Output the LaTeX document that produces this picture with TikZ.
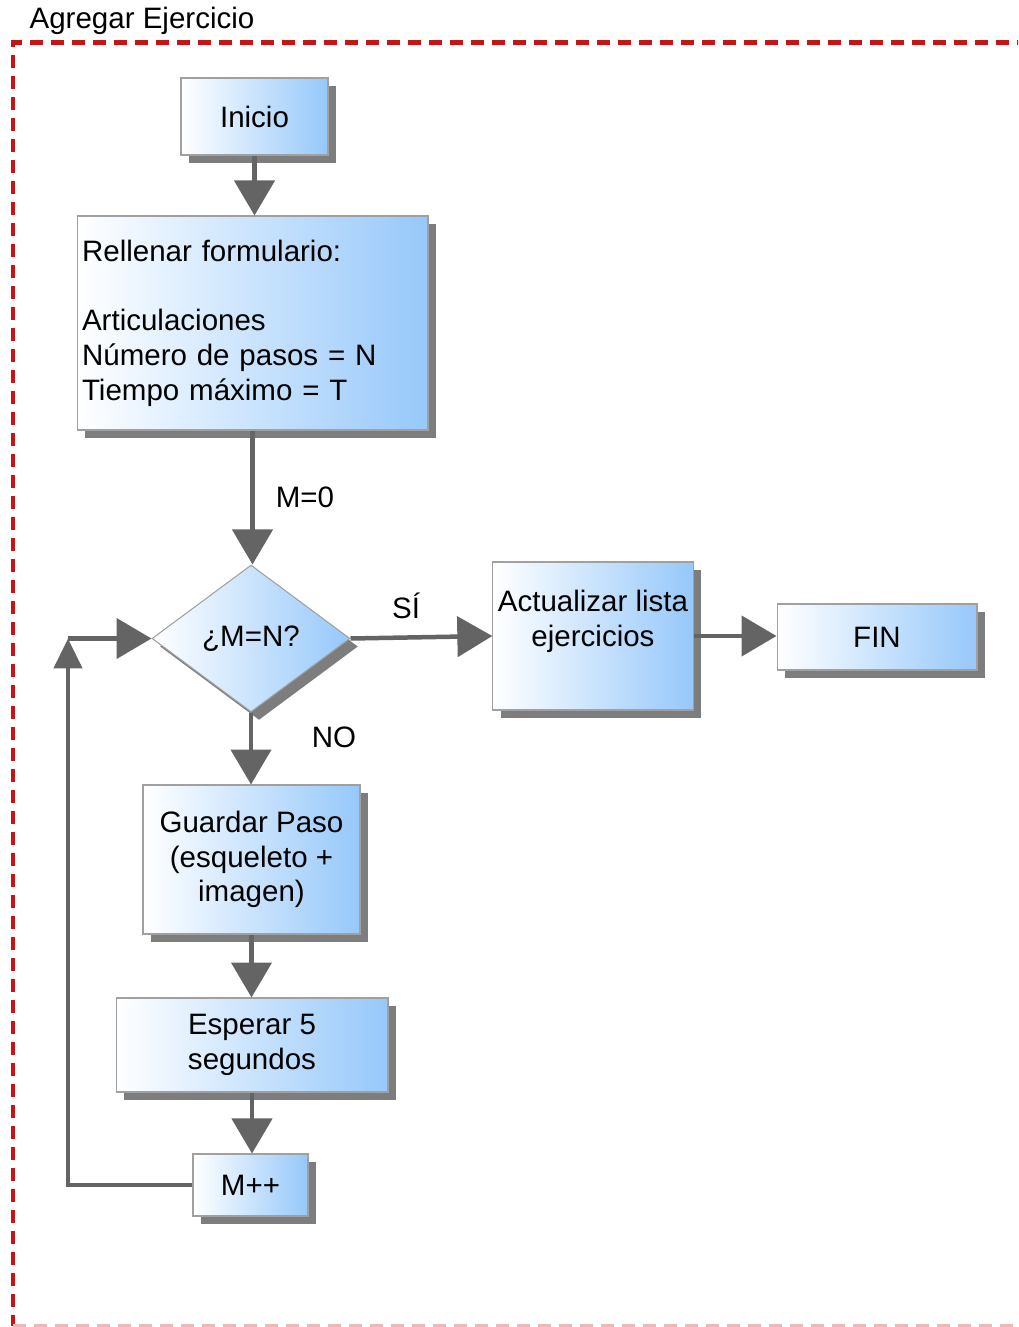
\documentclass[tikz,border=0pt]{standalone}
\usepackage{fontspec}
\setmainfont{Liberation Sans}
\usetikzlibrary{shapes.geometric,arrows.meta,shadows}

\definecolor{boxblue}{RGB}{150,200,250}
\definecolor{boxedge}{RGB}{160,160,160}
\definecolor{shadowgray}{RGB}{125,125,125}
\definecolor{arrowgray}{RGB}{100,100,100}
\definecolor{framered}{RGB}{200,20,20}

\tikzset{
  txt/.style={font=\fontsize{16.8}{19.8}\selectfont, text=black},
  stepbox/.style={txt, draw=boxedge, line width=0.6pt,
    left color=white, right color=boxblue, inner sep=0.1cm, align=center,
    drop shadow={shadow xshift=0.16cm, shadow yshift=-0.16cm, opacity=1, fill=shadowgray}},
  decision/.style={stepbox, diamond, inner sep=0pt},
  flow/.style={draw=arrowgray, line width=0.09cm, -{Triangle[width=0.8cm,length=0.7cm]}},
  flowsmall/.style={draw=arrowgray, line width=0.09cm, -{Triangle[width=0.56cm,length=0.6cm]}},
  frame/.style={draw=framered, line width=0.1cm, dash pattern=on 0.26cm off 0.16cm},
}

\begin{document}
\begin{tikzpicture}[x=0.02cm, y=-0.02cm]
  \useasboundingbox (0,0) rectangle (1018,1327);
  \clip (0,0) rectangle (1018,1327);
  \fill[white] (0,0) rectangle (1018,1327);

  % dashed group frame
  \coordinate (frTR) at (1030,43);
  \coordinate (frTL) at (13,43);
  \coordinate (frBL) at (13,1326);
  \coordinate (frBR) at (1030,1326);
  \draw[frame] (frTR) -- (frTL) -- (frBL);
  \draw[frame, draw=framered!30] (frBL) -- (frBR);
  \node[txt] (title) at (142,21) {Agregar Ejercicio};

  % process steps
  \node[stepbox, minimum width=2.94cm, minimum height=1.54cm] (ini) at (254.5,116.5) {Inicio};
  \node[stepbox, minimum width=7.02cm, minimum height=4.28cm, text width=6.82cm, align=left]
    (form) at (252.5,323) {Rellenar formulario:\\[19.8pt]Articulaciones\\Número de pasos = N\\Tiempo máximo = T};
  \node[decision, minimum width=3.96cm, minimum height=2.94cm] (dia) at (251,638.5) {¿M=N?};
  \node[stepbox, minimum width=4cm, minimum height=2.96cm] (act) at (593,636) {Actualizar lista\\ejercicios\\\mbox{}};
  \node[stepbox, minimum width=4cm, minimum height=1.32cm] (fin) at (877,637) {FIN};
  \node[stepbox, minimum width=4.34cm, minimum height=2.98cm] (save) at (251.5,859.5) {Guardar Paso\\(esqueleto +\\imagen)};
  \node[stepbox, minimum width=5.44cm, minimum height=1.88cm] (wait) at (252,1045) {Esperar 5\\segundos};
  \node[stepbox, minimum width=2.3cm, minimum height=1.24cm] (inc) at (250.5,1185) {M++};

  % connectors
  \draw[flow] (ini.south) -- (ini.south |- form.north);
  \draw[flow] (form.south) -- (form.south |- dia.north);
  \draw[flow] (dia.east) -- (act.west);
  \draw[flow] (act.east) -- (act.east -| fin.west);
  \draw[flow] (dia.south) -- (dia.south |- save.north);
  \draw[flow] (save.south) -- (save.south |- wait.north);
  \draw[flow] (wait.south) -- (wait.south |- inc.north);
  \coordinate (loop) at (68,638.5);
  \draw[flowsmall] (inc.west) -| (loop);
  \draw[flow] (loop) -- (dia.west);

  % connector labels
  \node[txt] (m0) at (305,497) {M=0};
  \node[txt] (si) at (406,606) {SÍ};
  \node[txt] (no) at (334,737) {NO};
\end{tikzpicture}
\end{document}
